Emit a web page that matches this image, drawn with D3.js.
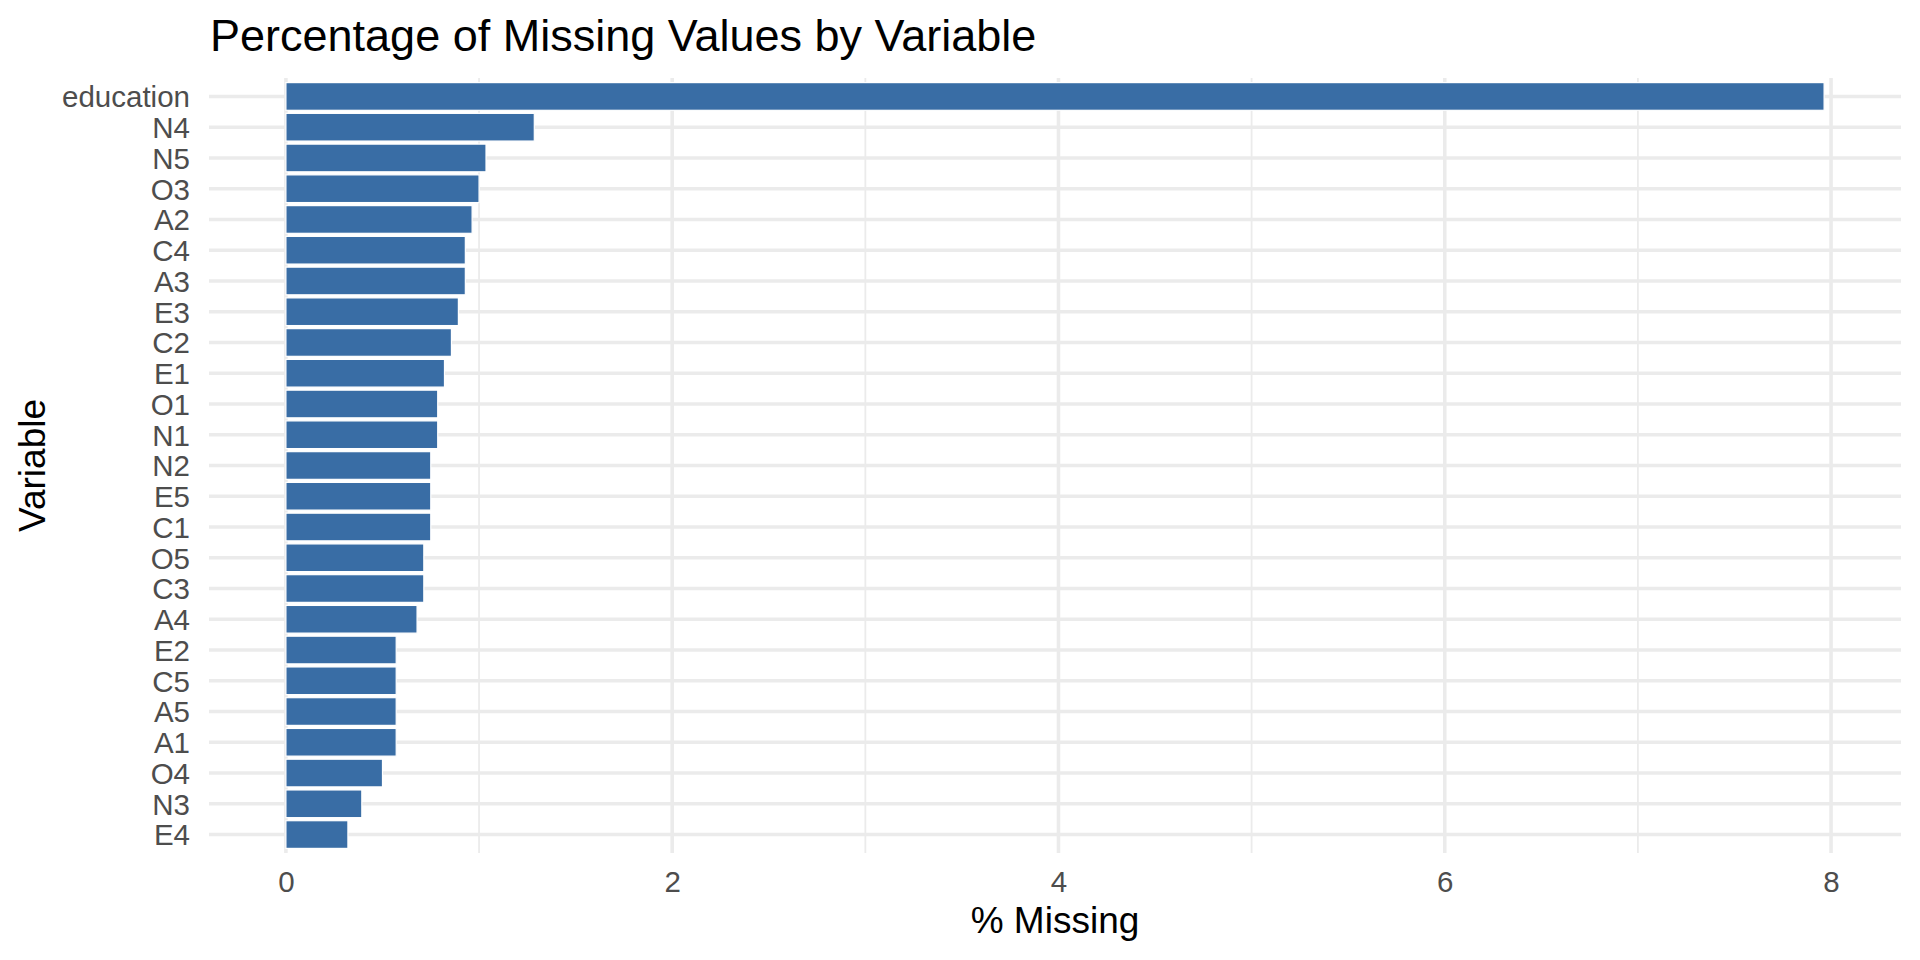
<!DOCTYPE html>
<html>
<head>
<meta charset="utf-8">
<script src="https://cdn.jsdelivr.net/npm/d3@7"></script>
<style>
  html, body { margin: 0; padding: 0; background: #fff; }
  svg text { font-family: "Liberation Sans", Arial, Helvetica, sans-serif; }
</style>
</head>
<body>
<div id="chart"></div>
<script>
// variables, sorted by share of missing values (top to bottom)
var variables = ["education", "N4", "N5", "O3", "A2", "C4", "A3", "E3", "C2", "E1",
                 "O1", "N1", "N2", "E5", "C1", "O5", "C3", "A4", "E2", "C5",
                 "A5", "A1", "O4", "N3", "E4"];
// % missing for each variable
var pctMissing = [7.964, 1.286, 1.036, 1.000, 0.964, 0.929, 0.929, 0.893, 0.857, 0.821,
                  0.786, 0.786, 0.750, 0.750, 0.750, 0.714, 0.714, 0.679, 0.571, 0.571,
                  0.571, 0.571, 0.500, 0.393, 0.321];
var xMajorTicks = [0, 2, 4, 6, 8];
var xMinorTicks = [1, 3, 5, 7];

var chartTitle = "Percentage of Missing Values by Variable";
var xTitle = "% Missing";
var yTitle = "Variable";

var width = 1920, height = 960;
var panel = { left: 209, right: 1901, top: 78, bottom: 853 };

var data = variables.map(function(v, i) { return { name: v, value: pctMissing[i] }; });

var svg = d3.select("#chart").append("svg")
    .attr("width", width)
    .attr("height", height)
    .attr("viewBox", "0 0 " + width + " " + height);

svg.append("rect").attr("width", width).attr("height", height).attr("fill", "#fff");

// ggplot-like 5% expansion on the continuous axis
var maxVal = d3.max(pctMissing);
var x = d3.scaleLinear()
    .domain([-0.05 * maxVal, maxVal * 1.05])
    .range([panel.left, panel.right]);

// discrete axis: 0.6 step of padding at both ends
var y = d3.scalePoint()
    .domain(variables)
    .range([panel.top, panel.bottom])
    .padding(0.6);
var barH = y.step() * 0.9;

var grid = svg.append("g").attr("class", "grid");

// minor vertical grid
grid.selectAll("line.minor").data(xMinorTicks).enter().append("line")
    .attr("class", "minor")
    .attr("x1", function(d) { return x(d); }).attr("x2", function(d) { return x(d); })
    .attr("y1", panel.top).attr("y2", panel.bottom)
    .attr("stroke", "#ebebeb").attr("stroke-width", 1.8);

// major vertical grid
grid.selectAll("line.majorx").data(xMajorTicks).enter().append("line")
    .attr("class", "majorx")
    .attr("x1", function(d) { return x(d); }).attr("x2", function(d) { return x(d); })
    .attr("y1", panel.top).attr("y2", panel.bottom)
    .attr("stroke", "#ebebeb").attr("stroke-width", 3.6);

// horizontal grid at each category
grid.selectAll("line.majory").data(variables).enter().append("line")
    .attr("class", "majory")
    .attr("x1", panel.left).attr("x2", panel.right)
    .attr("y1", function(d) { return y(d); }).attr("y2", function(d) { return y(d); })
    .attr("stroke", "#ebebeb").attr("stroke-width", 3.6);

// bars
svg.append("g").attr("class", "bars")
    .selectAll("rect").data(data).enter().append("rect")
    .attr("x", x(0))
    .attr("y", function(d) { return y(d.name) - barH / 2; })
    .attr("width", function(d) { return x(d.value) - x(0); })
    .attr("height", barH)
    .attr("fill", "#396da5")
    .attr("stroke", "#fff")
    .attr("stroke-width", 1.2);

// x axis labels
var xAxis = d3.axisBottom(x).tickValues(xMajorTicks).tickSize(0).tickPadding(0)
    .tickFormat(d3.format("d"));
var gx = svg.append("g")
    .attr("transform", "translate(0," + panel.bottom + ")")
    .call(xAxis);
gx.select(".domain").remove();
gx.selectAll("text")
    .attr("y", 39).attr("dy", null)
    .attr("font-size", 29.5)
    .attr("fill", "#4d4d4d");

// y axis labels
var yAxis = d3.axisLeft(y).tickSize(0).tickPadding(19);
var gy = svg.append("g")
    .attr("transform", "translate(" + panel.left + ",0)")
    .call(yAxis);
gy.select(".domain").remove();
gy.selectAll("text")
    .attr("dy", "0.35em")
    .attr("font-size", 29.5)
    .attr("fill", "#4d4d4d");

// titles
svg.append("text")
    .attr("x", panel.left + 1)
    .attr("y", 51)
    .attr("font-size", 45)
    .attr("fill", "#000")
    .text(chartTitle);

svg.append("text")
    .attr("x", (panel.left + panel.right) / 2)
    .attr("y", 933)
    .attr("text-anchor", "middle")
    .attr("font-size", 37)
    .attr("fill", "#000")
    .text(xTitle);

svg.append("text")
    .attr("transform", "translate(45," + (panel.top + panel.bottom) / 2 + ") rotate(-90)")
    .attr("text-anchor", "middle")
    .attr("font-size", 37)
    .attr("fill", "#000")
    .text(yTitle);
</script>
</body>
</html>
